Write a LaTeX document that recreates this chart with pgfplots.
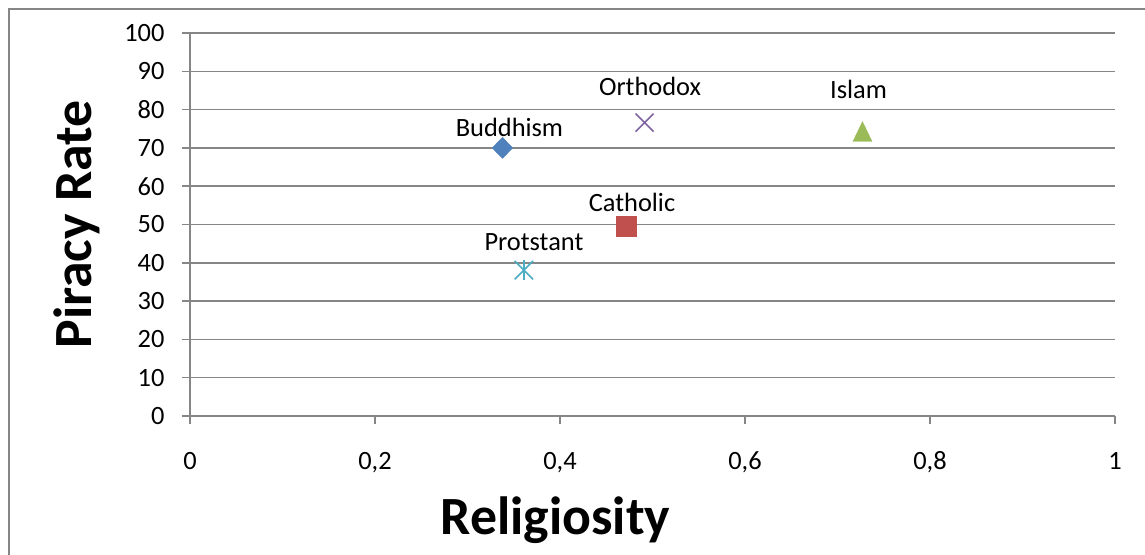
\documentclass[border=0pt]{standalone}
\usepackage{fontspec}
\setmainfont{Carlito}
\usepackage{pgfplots}
\pgfplotsset{compat=1.18}

\definecolor{gridc}{RGB}{134,134,134}
\definecolor{buddh}{RGB}{79,129,189}
\definecolor{cath}{RGB}{192,80,77}
\definecolor{orth}{RGB}{128,100,162}
\definecolor{isl}{RGB}{155,187,89}
\definecolor{prot}{RGB}{75,172,198}

\begin{document}
\begin{tikzpicture}[x=1bp,y=1bp]
\path[use as bounding box] (-190,-139) rectangle (955,416);
\draw[gridc, line width=2bp] (-181,-150) -- (-181,407) -- (970,407);
\begin{axis}[
    at={(0,0)}, anchor=south west,
    scale only axis,
    width=925bp, height=383bp,
    xmin=0, xmax=1, ymin=0, ymax=100,
    xtick={0,0.2,0.4,0.6,0.8,1},
    ytick={0,10,...,100},
    axis x line*=bottom,
    axis y line*=left,
    axis line style={gridc, line width=1.5bp},
    ymajorgrids,
    major grid style={gridc, line width=1.5bp},
    tick align=outside,
    major tick length=8bp,
    tick style={gridc, line width=1.5bp},
    /pgf/number format/assume math mode=true,
    /pgf/number format/use comma,
    ticklabel style={font=\fontsize{26.5}{30}\selectfont},
    xticklabel style={anchor=base, yshift=-45.5bp},
    yticklabel style={anchor=east, xshift=-14bp},
    xlabel={Religiosity},
    ylabel={Piracy Rate},
    xlabel style={font=\bfseries\fontsize{54}{60}\selectfont,
        at={(axis description cs:0.395,0)}, anchor=base, yshift=-119bp},
    ylabel style={font=\bfseries\fontsize{54}{60}\selectfont,
        at={(axis description cs:0,0.5)}, anchor=base, yshift=98bp},
    clip=false,
    every node near coord/.append style={font=\fontsize{26.5}{30}\selectfont, text=black, anchor=base},
    point meta=explicit symbolic,
]
\addplot[only marks, mark=diamond*, mark size=10.5bp, mark options={xscale=1.3, draw=buddh, fill=buddh},
    nodes near coords, nodes near coords style={xshift=7bp, yshift=11.7bp}]
    table[meta=label] {
x y label
0.3378 70.0 Buddhism
};
\addplot[only marks, mark=x, mark size=12.7bp, mark options={draw=orth, line width=1.6bp},
    nodes near coords, nodes near coords style={xshift=5.5bp, yshift=26.8bp}]
    table[meta=label] {
x y label
0.4914 76.6 Orthodox
};
\addplot[only marks, mark=triangle*, mark size=11bp, mark options={yscale=1.2, draw=isl, fill=isl},
    nodes near coords, nodes near coords style={xshift=-4bp, yshift=36bp}]
    table[meta=label] {
x y label
0.7270 73.4 Islam
};
\addplot[only marks, mark=square*, mark size=10bp, mark options={draw=cath, fill=cath},
    nodes near coords, nodes near coords style={xshift=5.5bp, yshift=15bp}]
    table[meta=label] {
x y label
0.4719 49.6 Catholic
};
\addplot[only marks, mark=x, mark size=13bp, mark options={draw=prot, line width=1.6bp}]
    table {
x y
0.3610 38.1
};
\addplot[only marks, mark=|, mark size=10bp, mark options={draw=prot, line width=1.6bp},
    nodes near coords, nodes near coords style={xshift=10bp, yshift=20bp}]
    table[meta=label] {
x y label
0.3610 38.1 Protstant
};
\end{axis}
\end{tikzpicture}
\end{document}
